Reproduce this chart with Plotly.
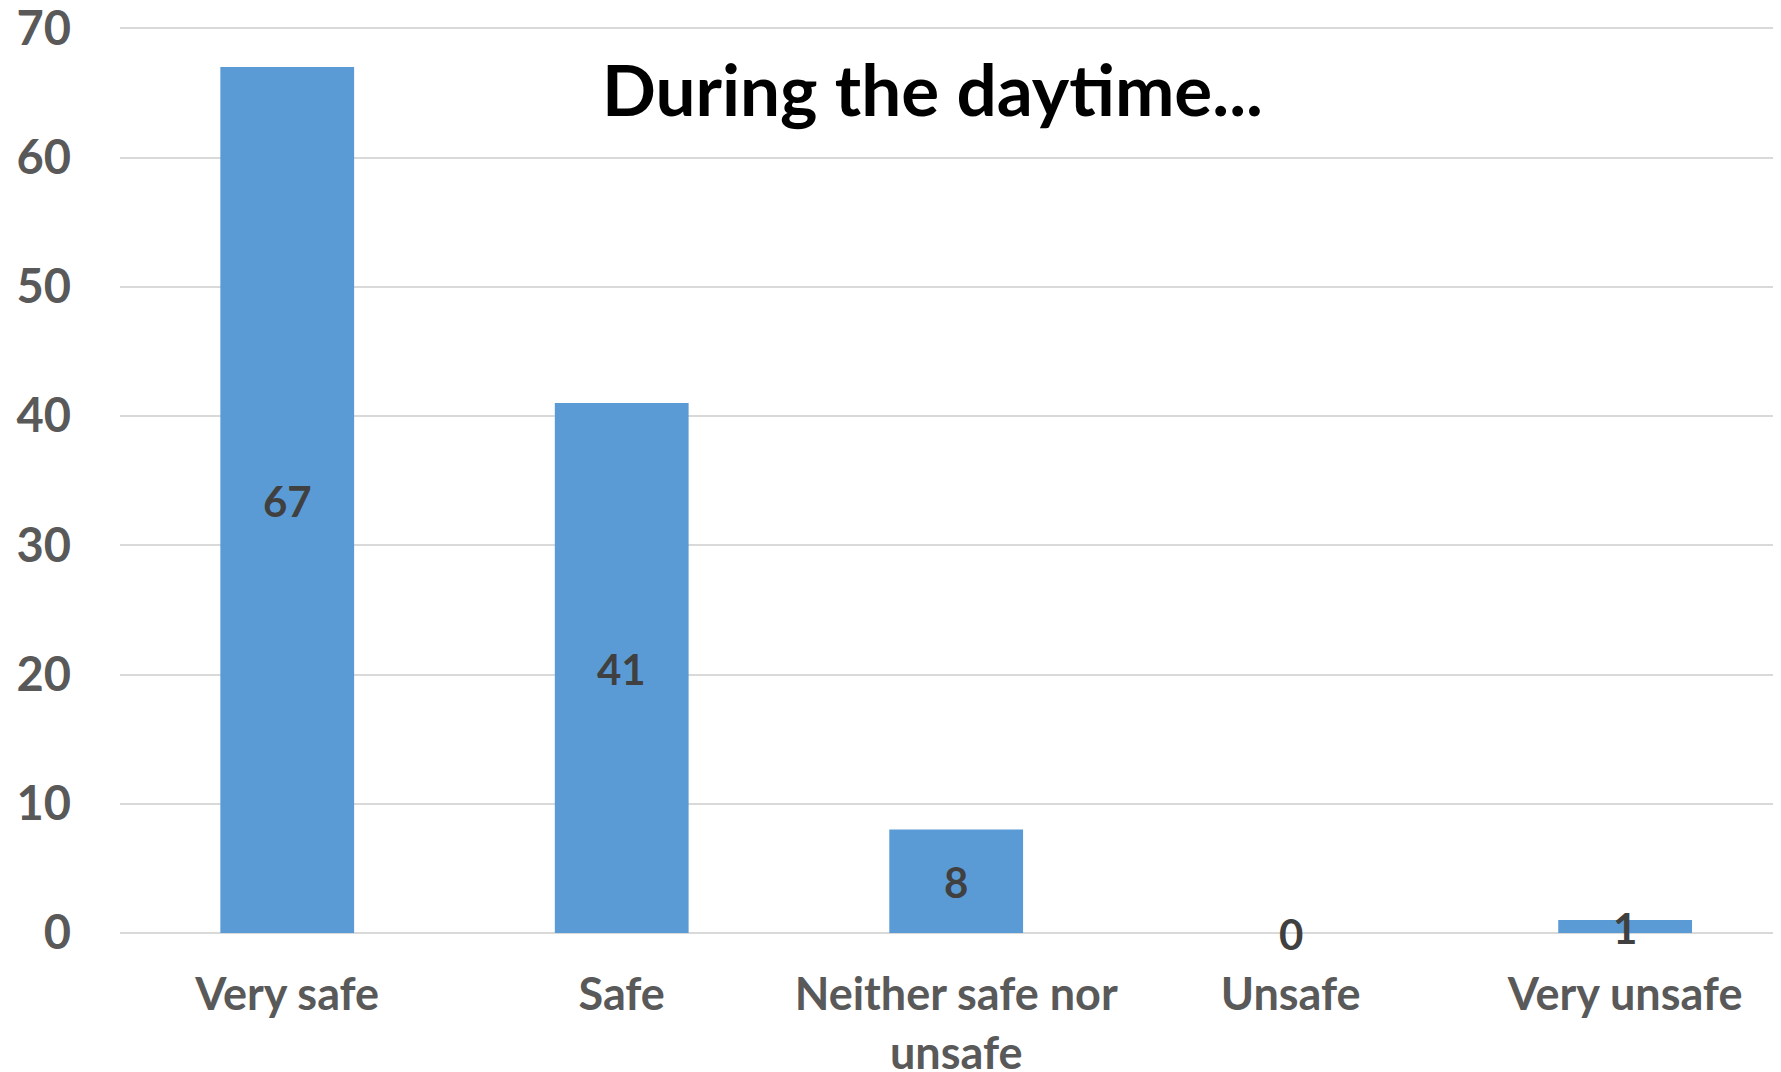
import plotly.graph_objects as go

categories = ["Very safe", "Safe", "Neither safe nor<br>unsafe", "Unsafe", "Very unsafe"]
values = [67, 41, 8, 0, 1]
y_ticks = [0, 10, 20, 30, 40, 50, 60, 70]
title_text = "During the daytime..."

FONT = "Lato"
BAR = "#5b9bd5"
GRID = "#d9d9d9"
TICK = "#595959"

fig = go.Figure()
fig.add_trace(go.Bar(
    x=categories, y=values, width=0.4,
    marker=dict(color=BAR, line=dict(width=0)),
    hoverinfo="skip",
))
for cat, v in zip(categories, values):
    fig.add_annotation(
        x=cat, y=v / 2, text=str(v), showarrow=False,
        xanchor="center", yanchor="middle", yshift=-1,
        font=dict(family=FONT, size=42, color="#404040", weight="bold"),
    )

fig.add_annotation(
    text=title_text, xref="paper", yref="paper", x=0.489, y=0.932,
    xanchor="center", yanchor="middle", showarrow=False,
    font=dict(family=FONT, size=71, color="#000000", weight="bold"),
)

fig.update_layout(
    width=1773, height=1064,
    margin=dict(l=112, r=0, t=19, b=139),
    paper_bgcolor="white", plot_bgcolor="white",
    showlegend=False, bargap=0.6,
)
fig.update_xaxes(
    type="category", range=[-0.5, 4.466], automargin=False,
    showgrid=False, showline=False, zeroline=False,
    ticks="", ticklabelstandoff=31, ticklabeloverflow="allow",
    tickfont=dict(family=FONT, size=45, color=TICK, weight="bold"),
)
fig.update_yaxes(
    range=[0, 70.1], tickvals=y_ticks, automargin=False,
    showgrid=True, gridcolor=GRID, gridwidth=2,
    zeroline=True, zerolinecolor=GRID, zerolinewidth=2, showline=False,
    ticks="", ticklabelstandoff=48, ticklabeloverflow="allow",
    tickfont=dict(family=FONT, size=47, color=TICK, weight="bold"),
)

fig.write_html("out.html")
